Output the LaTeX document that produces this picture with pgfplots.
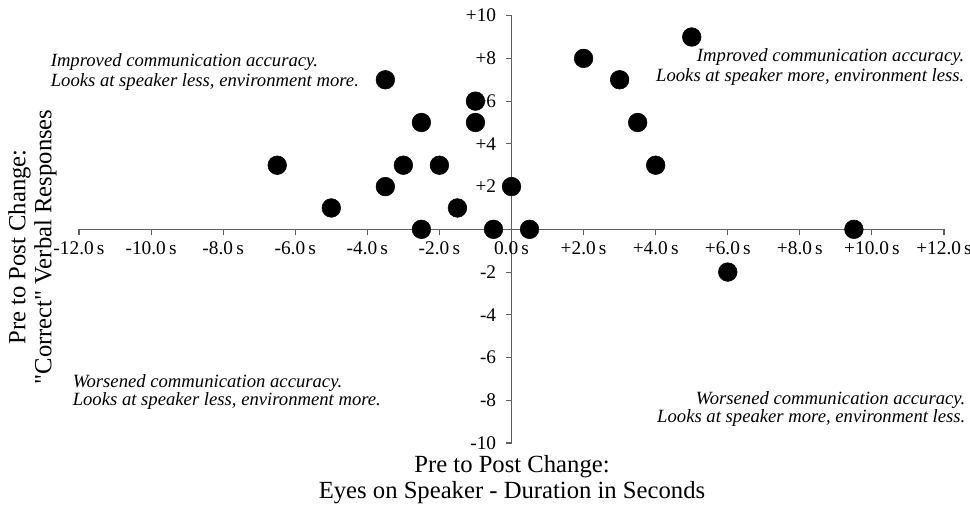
\documentclass[border=0pt]{standalone}
\usepackage{fontspec}
\setmainfont{Liberation Serif}
\newfontfamily\qfont{Liberation Serif}[Ligatures=TeXOff]
\usepackage{pgfplots}
\pgfplotsset{compat=1.18}
\definecolor{axgray}{HTML}{5E5E5E}
\begin{document}
\begin{tikzpicture}
\useasboundingbox (-59.25pt,-49.5pt) rectangle (668.25pt,332.25pt);
\begin{axis}[
  at={(0pt,0pt)}, anchor=south west,
  scale only axis, width=648.75pt, height=320.5pt,
  xmin=-12, xmax=12, ymin=-10, ymax=10,
  axis lines=middle,
  axis line style={-, axgray, line width=0.8pt},
  clip=false,
  xtick={-12,-10,...,12},
  xticklabels={-12.0\,s,-10.0\,s,-8.0\,s,-6.0\,s,-4.0\,s,-2.0\,s,0.0\,s,+2.0\,s,+4.0\,s,+6.0\,s,+8.0\,s,+10.0\,s,+12.0\,s},
  ytick={-10,-8,-6,-4,-2,2,4,6,8,10},
  yticklabels={-10,-8,-6,-4,-2,+2,+4,+6,+8,+10},
  hide obscured x ticks=false, hide obscured y ticks=false,
  tick align=outside,
  major tick length=4pt,
  tick style={axgray, line width=0.8pt},
  ticklabel style={font=\fontsize{14.5}{16}\selectfont},
  xticklabel style={yshift=-2pt},
  yticklabel style={xshift=-4pt},
  xlabel={Pre to Post Change:\\Eyes on Speaker - Duration in Seconds},
  ylabel={Pre to Post Change:\\{\qfont"}Correct{\qfont"} Verbal Responses},
  xlabel style={at={(rel axis cs:0.5006,-0.085)}, anchor=center, align=center, font=\fontsize{18.5}{19.5}\selectfont},
  ylabel style={at={(rel axis cs:-0.0538,0.4587)}, anchor=center, rotate=90, align=center, font=\fontsize{18.5}{19.5}\selectfont},
]
\addplot[only marks, mark=*, mark size=7pt, black] coordinates {
  (-6.5,3) (-5,1) (-3.5,7) (-3.5,2) (-3,3) (-2.5,5) (-2.5,0) (-2,3)
  (-1.5,1) (-1,6) (-1,5) (-0.5,0) (0,2) (0.5,0)
  (2,8) (3,7) (3.5,5) (4,3) (5,9) (9.5,0) (6,-2)
};
\node[anchor=west, align=left, inner sep=0pt, font=\itshape\fontsize{14}{15}\selectfont] at (axis cs:-12.79,7.37)
  {Improved communication accuracy.\\Looks at speaker less, environment more.};
\node[anchor=east, align=right, inner sep=0pt, font=\itshape\fontsize{14}{15}\selectfont] at (axis cs:12.57,7.62)
  {Improved communication accuracy.\\Looks at speaker more, environment less.};
\node[anchor=west, align=left, inner sep=0pt, font=\itshape\fontsize{14}{12.5}\selectfont] at (axis cs:-12.18,-7.62)
  {Worsened communication accuracy.\\Looks at speaker less, environment more.};
\node[anchor=east, align=right, inner sep=0pt, font=\itshape\fontsize{14}{12.5}\selectfont] at (axis cs:12.6,-8.42)
  {Worsened communication accuracy.\\Looks at speaker more, environment less.};
\end{axis}
\end{tikzpicture}
\end{document}
